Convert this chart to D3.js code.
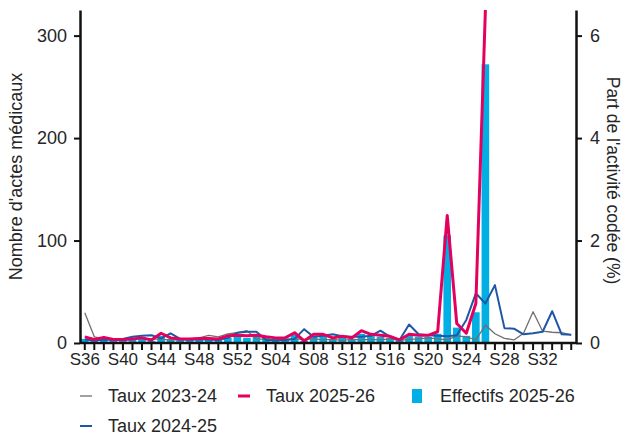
<!DOCTYPE html>
<html lang="fr">
<head>
<meta charset="utf-8">
<script src="https://cdn.jsdelivr.net/npm/d3@7"></script>
<style>
  html, body { margin: 0; padding: 0; background: #fff; }
  svg { display: block; font-family: "Liberation Sans", Arial, Helvetica, sans-serif; }
</style>
</head>
<body>
<svg id="chart" width="624" height="437"></svg>
<script>
// Weeks of the season, S36 through S35
const weeks = [
  "S36","S37","S38","S39","S40","S41","S42","S43","S44","S45","S46","S47","S48",
  "S49","S50","S51","S52","S01","S02","S03","S04","S05","S06","S07","S08","S09",
  "S10","S11","S12","S13","S14","S15","S16","S17","S18","S19","S20","S21","S22",
  "S23","S24","S25","S26","S27","S28","S29","S30","S31","S32","S33","S34","S35"
];
const weekTickLabels = ["S36","S40","S44","S48","S52","S04","S08","S12","S16","S20","S24","S28","S32"];

// Share of coded activity (%) per season
const taux2023_24 = [
  0.59, 0.12, 0.08, 0.07, 0.08, 0.08, 0.09, 0.08, 0.07, 0.06, 0.06, 0.07, 0.10,
  0.15, 0.12, 0.18, 0.20, 0.24, 0.08, 0.07, 0.06, 0.07, 0.08, 0.07, 0.08, 0.06,
  0.07, 0.05, 0.07, 0.06, 0.07, 0.06, 0.08, 0.05, 0.07, 0.08, 0.10, 0.08, 0.06,
  0.14, 0.12, 0.06, 0.35, 0.18, 0.09, 0.06, 0.19, 0.61, 0.23, 0.21, 0.20, 0.16
];
const taux2024_25 = [
  0.07, 0.05, 0.07, 0.06, 0.08, 0.12, 0.14, 0.15, 0.09, 0.19, 0.08, 0.07, 0.07,
  0.07, 0.06, 0.10, 0.20, 0.22, 0.22, 0.06, 0.05, 0.06, 0.08, 0.27, 0.12, 0.14,
  0.17, 0.13, 0.12, 0.12, 0.14, 0.24, 0.12, 0.06, 0.36, 0.17, 0.15, 0.14, 0.13,
  0.15, 0.45, 0.97, 0.77, 1.13, 0.29, 0.28, 0.17, 0.19, 0.22, 0.62, 0.17, 0.16
];
const taux2025_26 = [
  0.12, 0.07, 0.11, 0.07, 0.07, 0.08, 0.10, 0.06, 0.19, 0.10, 0.08, 0.08, 0.09,
  0.09, 0.08, 0.14, 0.15, 0.14, 0.15, 0.12, 0.10, 0.10, 0.20, 0.04, 0.17, 0.17,
  0.10, 0.13, 0.10, 0.24, 0.17, 0.15, 0.13, 0.06, 0.17, 0.15, 0.15, 0.22, 2.49,
  0.38, 0.19, 0.77, 6.50
];
// Number of medical acts, season 2025-26
const effectifs2025_26 = [
  4, 3, 4, 3, 3, 3, 4, 2, 7, 4, 3, 3, 4,
  3, 3, 5, 6, 5, 6, 5, 4, 4, 8, 2, 7, 7,
  4, 5, 4, 9, 7, 6, 5, 3, 7, 6, 6, 9, 105,
  15, 7, 30, 272
];

const leftTicks = [0, 100, 200, 300];
const rightTicks = [0, 2, 4, 6];

const colors = {
  t2324: "#6f6f6f",
  t2425: "#1f57a4",
  t2526: "#e4005e",
  bars: "#00b0e4",
  axis: "#111111",
  text: "#262626"
};

const svg = d3.select("#chart");
const plotLeft = 80, plotRight = 576, plotTop = 10, plotBottom = 343;

const x = d3.scaleBand().domain(weeks).range([plotLeft, plotRight])
  .paddingInner(0.2).paddingOuter(0.1);
const xc = w => x(w) + x.bandwidth() / 2;
const yL = d3.scaleLinear().domain([0, 325]).range([plotBottom, plotTop]);
const yR = d3.scaleLinear().domain([0, 6.5]).range([plotBottom, plotTop]);

svg.append("defs").append("clipPath").attr("id", "plot")
  .append("rect").attr("x", plotLeft).attr("y", plotTop)
  .attr("width", plotRight - plotLeft).attr("height", plotBottom - plotTop);

const plot = svg.append("g").attr("clip-path", "url(#plot)");

// Bars: counts on the left axis
plot.append("g").selectAll("rect")
  .data(effectifs2025_26)
  .join("rect")
  .attr("x", (d, i) => x(weeks[i]))
  .attr("width", x.bandwidth())
  .attr("y", d => yL(d))
  .attr("height", d => yL(0) - yL(d))
  .attr("fill", colors.bars);

// Rate lines on the right axis
const line = d3.line().x((d, i) => xc(weeks[i])).y(d => yR(d));
const series = [
  { values: taux2023_24, color: colors.t2324, width: 1.3 },
  { values: taux2024_25, color: colors.t2425, width: 2 },
  { values: taux2025_26, color: colors.t2526, width: 3 }
];
plot.append("g").selectAll("path")
  .data(series)
  .join("path")
  .attr("d", s => line(s.values))
  .attr("fill", "none")
  .attr("stroke", s => s.color)
  .attr("stroke-width", s => s.width)
  .attr("stroke-linejoin", "round");

function styleAxis(g, size) {
  g.select(".domain").attr("stroke", colors.axis).attr("stroke-width", 2.5);
  g.selectAll(".tick line").attr("stroke", colors.axis).attr("stroke-width", 2);
  g.selectAll(".tick text").attr("fill", colors.text).style("font-size", size + "px")
    .style("font-family", "\"Liberation Sans\", Arial, sans-serif");
}

// Left axis
svg.append("g").attr("transform", `translate(${plotLeft},0)`)
  .call(d3.axisLeft(yL).tickValues(leftTicks).tickSize(6).tickPadding(7).tickSizeOuter(0))
  .call(styleAxis, 18);

// Right axis
svg.append("g").attr("transform", `translate(${plotRight},0)`)
  .call(d3.axisRight(yR).tickValues(rightTicks).tickFormat(d3.format("d"))
    .tickSize(6).tickPadding(8).tickSizeOuter(0))
  .call(styleAxis, 18);

// Bottom axis: a tick every week, labels every four weeks
svg.append("g").attr("transform", `translate(0,${plotBottom})`)
  .call(d3.axisBottom(x).tickSize(7).tickPadding(3).tickSizeOuter(0)
    .tickFormat(w => weekTickLabels.includes(w) ? w : ""))
  .call(styleAxis, 17)
  .call(g => g.select(".domain").attr("d", `M${plotLeft},0H${plotRight}`));

// Axis titles
svg.append("text")
  .attr("transform", `translate(22,${(plotTop + plotBottom) / 2}) rotate(-90)`)
  .attr("text-anchor", "middle")
  .attr("fill", colors.text)
  .style("font-size", "18px")
  .text("Nombre d'actes médicaux");

svg.append("text")
  .attr("transform", `translate(607,${(plotTop + plotBottom) / 2 + 4}) rotate(90)`)
  .attr("text-anchor", "middle")
  .attr("fill", colors.text)
  .style("font-size", "17.5px")
  .text("Part de l'activité codée (%)");

// Legend
const legendItems = [
  { label: "Taux 2023-24", color: colors.t2324, kind: "line", w: 1.3, x: 80, y: 396 },
  { label: "Taux 2025-26", color: colors.t2526, kind: "line", w: 3, x: 238, y: 396 },
  { label: "Effectifs 2025-26", color: colors.bars, kind: "box", x: 412, y: 396 },
  { label: "Taux 2024-25", color: colors.t2425, kind: "line", w: 2, x: 80, y: 426 }
];
const lg = svg.append("g").selectAll("g").data(legendItems).join("g")
  .attr("transform", d => `translate(${d.x},${d.y})`);
lg.filter(d => d.kind === "line").append("line")
  .attr("x1", 0).attr("x2", 12).attr("y1", 0).attr("y2", 0)
  .attr("stroke", d => d.color).attr("stroke-width", d => d.w);
lg.filter(d => d.kind === "box").append("rect")
  .attr("x", 0).attr("y", -7).attr("width", 10).attr("height", 14)
  .attr("fill", d => d.color);
lg.append("text")
  .attr("x", 28)
  .attr("dy", "0.35em")
  .attr("fill", colors.text)
  .style("font-size", "18px")
  .text(d => d.label);
</script>
</body>
</html>
